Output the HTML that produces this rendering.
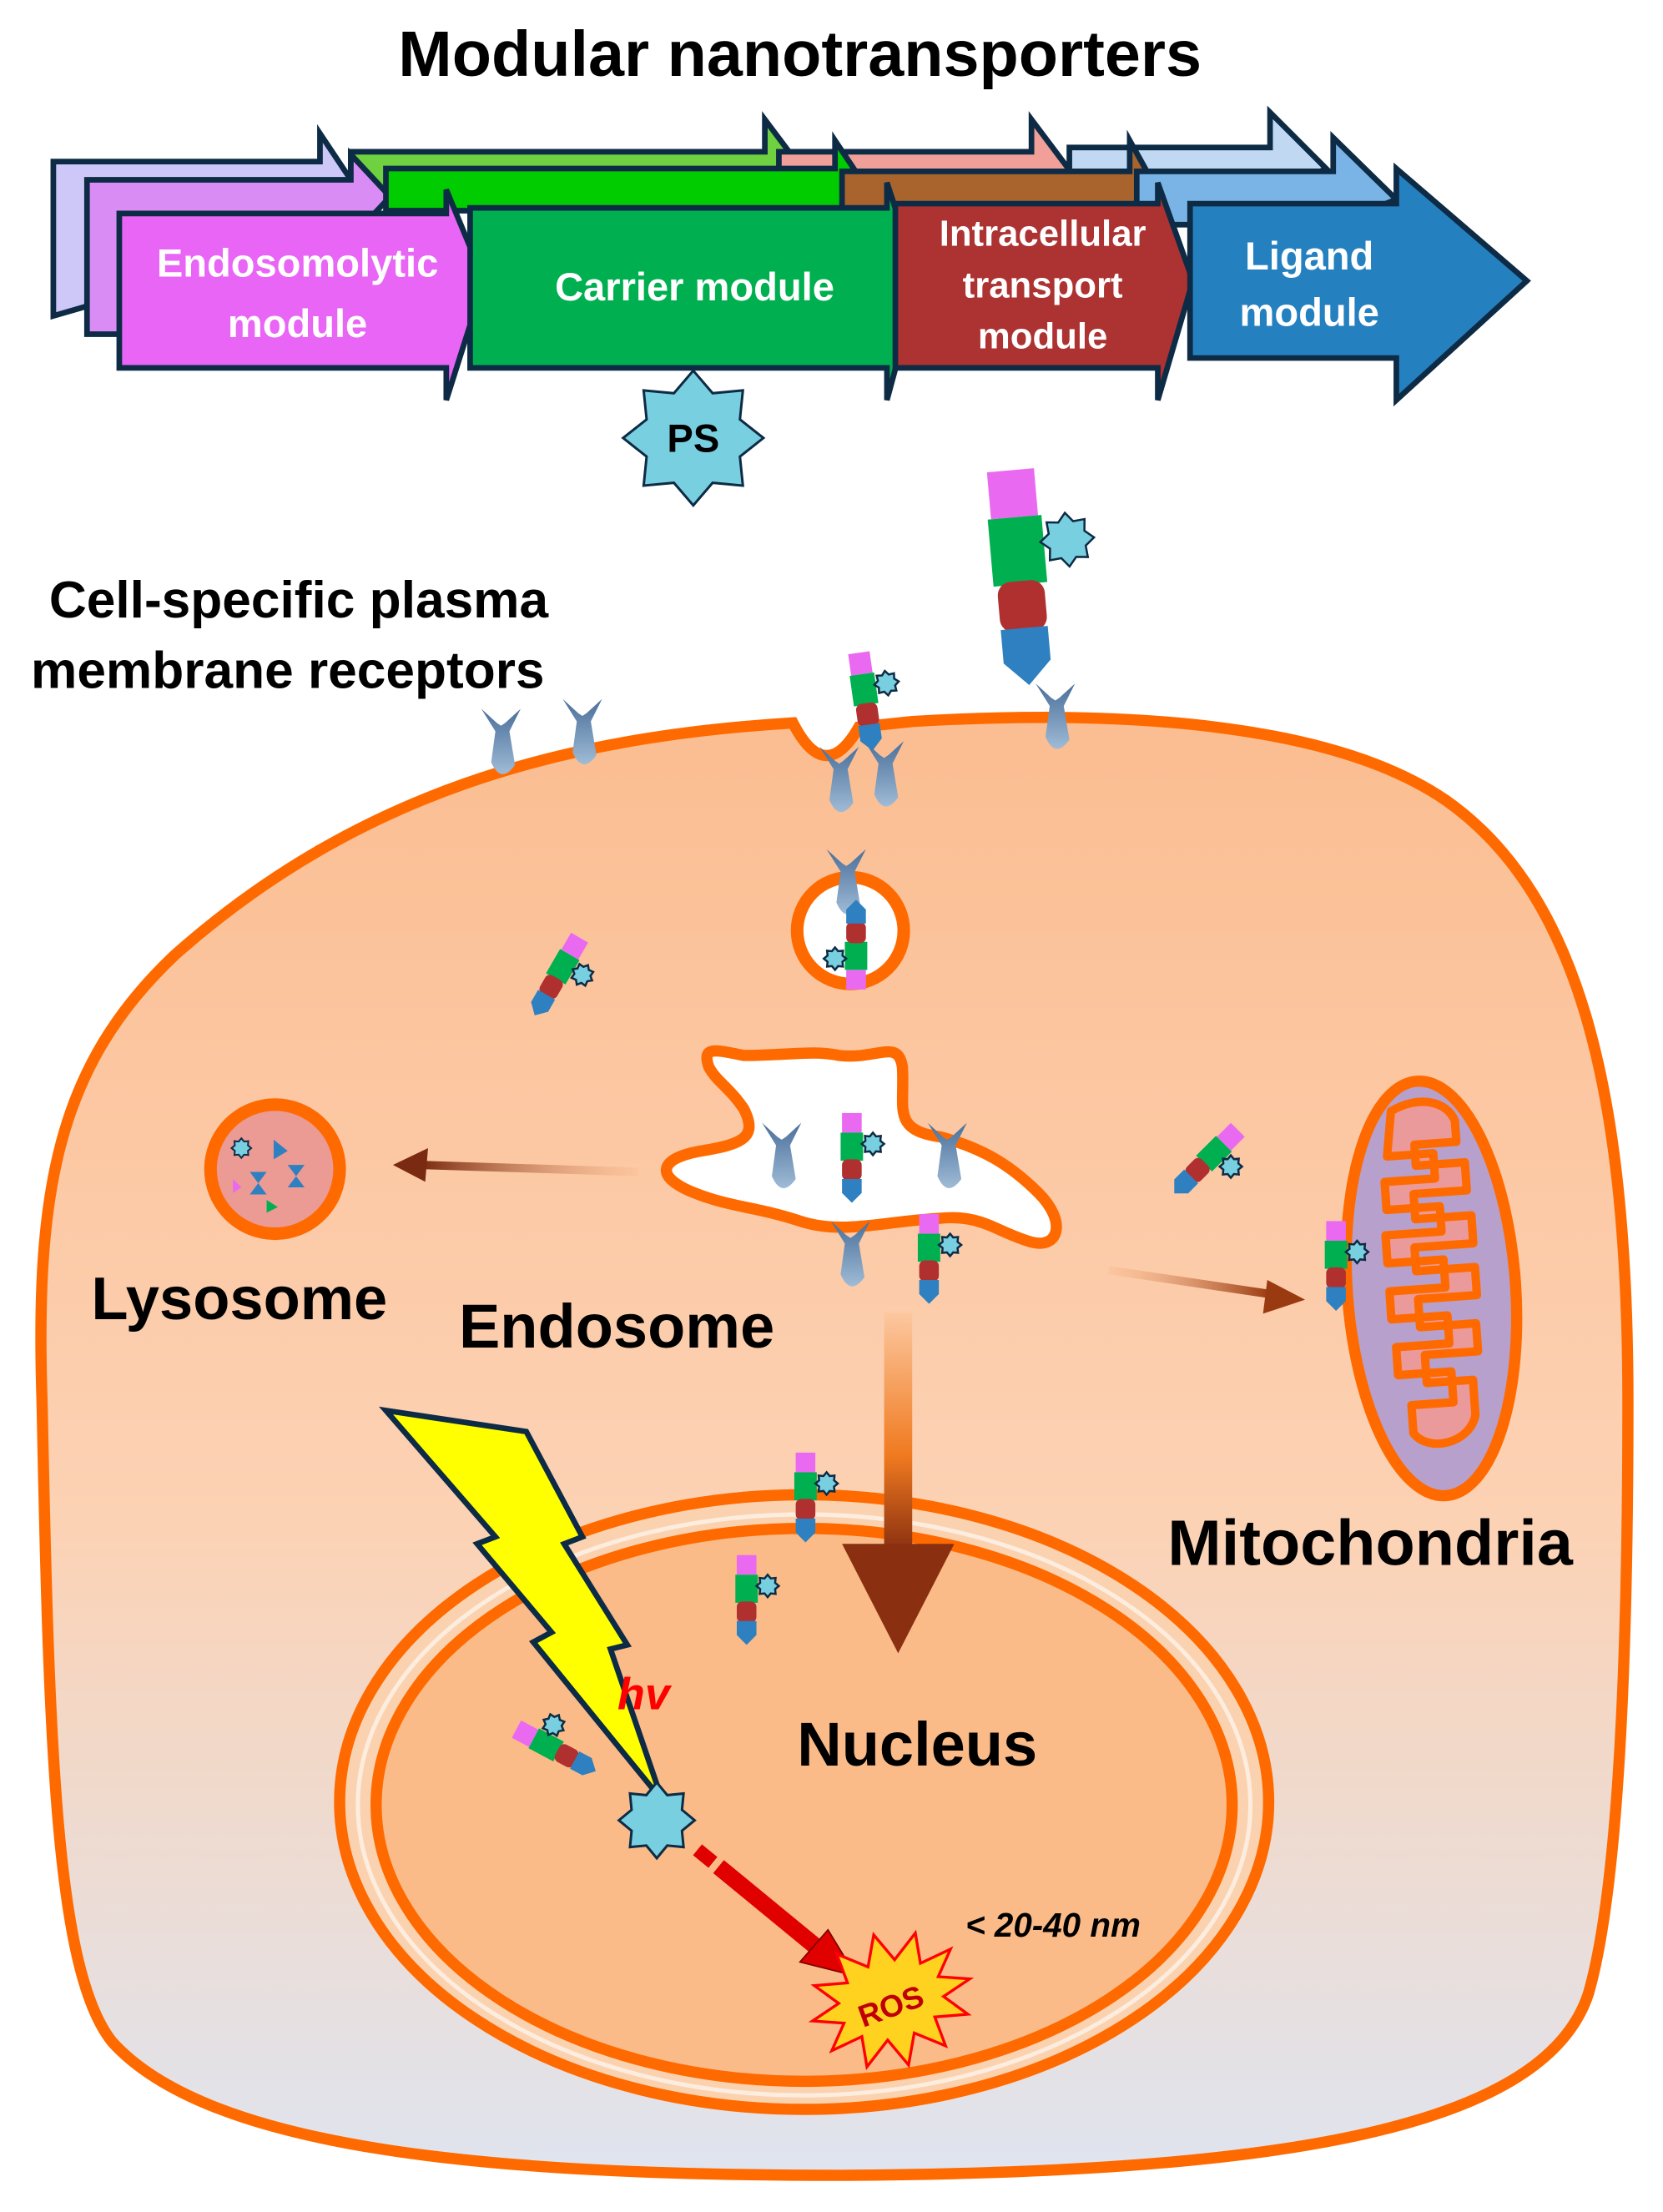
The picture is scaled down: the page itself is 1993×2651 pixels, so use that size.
<!DOCTYPE html>
<html><head><meta charset="utf-8">
<style>
html,body{margin:0;padding:0;background:#fff;}
svg{display:block;}
text{font-family:"Liberation Sans","DejaVu Sans",sans-serif;font-weight:bold;}
</style></head>
<body>
<svg width="1993" height="2651" viewBox="0 0 1185 1576" xmlns="http://www.w3.org/2000/svg">
<defs>
<linearGradient id="cellg" x1="0" y1="0" x2="0" y2="1">
<stop offset="0" stop-color="#fbbd91"/><stop offset="0.55" stop-color="#fcd2b4"/><stop offset="1" stop-color="#dfe4ef"/>
</linearGradient>
<linearGradient id="recg" x1="0" y1="0" x2="0" y2="1">
<stop offset="0" stop-color="#4a6f9a"/><stop offset="1" stop-color="#9fbbd6"/>
</linearGradient>
<linearGradient id="arrL" x1="1" y1="0" x2="0" y2="0">
<stop offset="0" stop-color="#fbb98a" stop-opacity="0.3"/><stop offset="1" stop-color="#7a2a10"/>
</linearGradient>
<linearGradient id="arrR" x1="0" y1="0" x2="1" y2="0">
<stop offset="0" stop-color="#fbb98a" stop-opacity="0.3"/><stop offset="1" stop-color="#9a3a10"/>
</linearGradient>
<linearGradient id="arrD" x1="0" y1="0" x2="0" y2="1">
<stop offset="0" stop-color="#fcc8a0"/><stop offset="0.6" stop-color="#f07a20"/><stop offset="1" stop-color="#8a3010"/>
</linearGradient>
<g id="star"><polygon vector-effect="non-scaling-stroke" points="0,-1 0.276,-0.665 0.707,-0.707 0.665,-0.276 1,0 0.665,0.276 0.707,0.707 0.276,0.665 0,1 -0.276,0.665 -0.707,0.707 -0.665,0.276 -1,0 -0.665,-0.276 -0.707,-0.707 -0.276,-0.665"/></g>
<g id="nt">
<rect x="-7" y="0" width="14" height="14" fill="#e96af0"/>
<rect x="-8" y="14" width="16" height="20" fill="#00b050"/>
<rect x="-7" y="33" width="14" height="15" rx="4" fill="#b03030"/>
<polygon points="-7,47 7,47 7,57 0,64 -7,57" fill="#2e80c0"/>
<use href="#star" transform="translate(15,22) scale(8)" fill="#78cfe0" stroke="#0d2b45" stroke-width="2.5"/>
</g>
<g id="rec">
<path d="M-14,0 L-4,16 L-7,38 Q0,54 10,40 L6,16 L14,0 L3,10 L0,12 L-3,10 Z" fill="url(#recg)"/>
</g>
</defs>

<text x="570" y="54" font-size="46" text-anchor="middle" fill="#000">Modular nanotransporters</text>

<g stroke="#0d2b45" stroke-width="4" stroke-linejoin="miter">
<polygon points="38,115 228,115 228,95 268,155 228,170 38,225" fill="#cdc8f8"/>
<polygon points="250,108 545,108 545,85 575,125 545,140 250,140" fill="#6fd040"/>
<polygon points="555,108 735,108 735,85 765,125 735,140 555,140" fill="#f0a098"/>
<polygon points="762,105 905,105 905,80 945,120 905,140 762,140" fill="#c0d8f2"/>
<polygon points="62,128 250,128 250,110 278,140 250,170 250,238 62,238" fill="#d88cf4"/>
<polygon points="275,120 595,120 595,100 625,145 595,150 275,150" fill="#00cc00"/>
<polygon points="600,122 805,122 805,100 830,145 805,150 600,150" fill="#a8642c"/>
<polygon points="810,122 950,122 950,98 995,142 950,160 810,160" fill="#7ab4e6"/>
<polygon points="85,152 318,152 318,135 345,200 318,285 318,262 85,262" fill="#e865f5"/>
<polygon points="335,148 632,148 632,130 655,200 632,285 632,262 335,262" fill="#00b050"/>
<polygon points="638,145 825,145 825,130 850,200 825,285 825,262 638,262" fill="#ad3232"/>
<polygon points="848,145 995,145 995,120 1088,200 995,285 995,255 848,255" fill="#2580c0"/>
</g>
<g fill="#fff" font-size="28" text-anchor="middle">
<text x="212" y="197">Endosomolytic</text><text x="212" y="240">module</text>
<text x="495" y="214">Carrier module</text>
<text x="743" y="175" font-size="26">Intracellular</text><text x="743" y="212" font-size="26">transport</text><text x="743" y="248" font-size="26">module</text>
<text x="933" y="192">Ligand</text><text x="933" y="232">module</text>
</g>
<use href="#star" transform="translate(494,312) scale(50,48)" fill="#78cfe0" stroke="#0d2b45" stroke-width="3"/>
<text x="494" y="322" font-size="28" text-anchor="middle">PS</text>

<text x="35" y="440" font-size="37" fill="#000">Cell-specific plasma</text>
<text x="22" y="490" font-size="37" fill="#000">membrane receptors</text>

<path d="M565,515 Q588,560 612,518 L650,514 C800,505 950,515 1030,570 C1130,640 1160,790 1160,1000 C1160,1200 1152,1350 1132,1420 C1100,1520 900,1548 600,1550 C350,1550 150,1532 80,1455 C40,1405 35,1250 30,1000 C25,850 40,760 125,680 C255,565 400,525 565,515 Z" fill="url(#cellg)" stroke="#ff6a00" stroke-width="8"/>

<ellipse cx="573" cy="1284" rx="331" ry="219" fill="#fbd2b0" stroke="#ff6a00" stroke-width="8"/>
<ellipse cx="573" cy="1286" rx="318" ry="207" fill="none" stroke="#fff" stroke-width="3" opacity="0.6"/>
<ellipse cx="573" cy="1286" rx="305" ry="197" fill="#fbbb88" stroke="#ff6a00" stroke-width="8"/>

<circle cx="606" cy="663" r="38" fill="#fff" stroke="#ff6a00" stroke-width="9"/>

<path d="M505,760 C500,745 510,748 530,752 C560,752 580,748 598,752 C625,755 640,740 643,760 C645,790 635,805 670,810 C700,818 720,830 740,850 C760,870 755,890 735,885 C710,878 700,865 670,868 C630,870 600,880 570,870 C540,860 520,860 495,850 C465,838 470,825 500,820 C530,815 540,810 530,790 C520,775 510,770 505,760 Z" fill="#fff" stroke="#ff6a00" stroke-width="8"/>

<circle cx="196" cy="833" r="46" fill="#eb9a94" stroke="#ff6a00" stroke-width="9"/>
<use href="#star" transform="translate(172,818) scale(7)" fill="#78cfe0" stroke="#0d2b45" stroke-width="2"/>
<polygon points="178,835 190,835 184,843 190,851 178,851 184,843" fill="#2e80c0"/>
<polygon points="205,830 217,830 211,838 217,846 205,846 211,838" fill="#2e80c0"/>
<polygon points="195,812 205,820 195,826" fill="#2e80c0"/>
<polygon points="190,855 198,860 190,864" fill="#00b050"/>
<polygon points="166,840 172,846 166,850" fill="#e96af0"/>

<g transform="rotate(-4 1020 918)">
<ellipse cx="1020" cy="918" rx="60" ry="148" fill="#b8a0cc" stroke="#ff6a00" stroke-width="8"/>
<path d="M1000,790 C1020,780 1040,785 1045,800 L1045,815 L1015,815 L1015,830 L1050,830 L1050,850 L1012,850 L1012,868 L1052,868 L1052,888 L1010,888 L1010,905 L1052,905 L1052,925 L1010,925 L1010,945 L1050,945 L1050,965 L1012,965 L1012,985 L1045,985 L1045,1010 C1040,1030 1010,1035 1000,1020 L1000,1000 L1030,1000 L1030,978 L992,978 L992,958 L1030,958 L1030,938 L990,938 L990,918 L1030,918 L1030,898 L990,898 L990,878 L1030,878 L1030,860 L992,860 L992,840 L1028,840 L1028,822 L995,822 Z" fill="#ea9a9a" stroke="#ff6a00" stroke-width="6" stroke-linejoin="round"/>
</g>

<line x1="455" y1="835" x2="300" y2="830" stroke="url(#arrL)" stroke-width="6"/>
<polygon points="280,830 305,818 303,842" fill="#7a2a10"/>
<line x1="790" y1="905" x2="905" y2="922" stroke="url(#arrR)" stroke-width="6"/>
<polygon points="930,926 903,912 900,936" fill="#9a3a10"/>
<rect x="630" y="935" width="20" height="170" fill="url(#arrD)"/>
<polygon points="600,1100 680,1100 640,1178" fill="#8a3010"/>

<use href="#rec" transform="translate(357,505)"/>
<use href="#rec" transform="translate(415,498)"/>
<use href="#rec" transform="translate(598,532)"/>
<use href="#rec" transform="translate(630,528)"/>
<use href="#rec" transform="translate(752,487)"/>
<use href="#rec" transform="translate(603,605)"/>
<use href="#rec" transform="translate(557,800)"/>
<use href="#rec" transform="translate(675,800)"/>
<use href="#rec" transform="translate(606,870)"/>

<use href="#nt" transform="translate(720,335) rotate(-5) scale(2.4)"/>
<use href="#nt" transform="translate(612,465) rotate(-8) scale(1.1)"/>
<use href="#nt" transform="translate(610,705) rotate(180) scale(1.0)"/>
<use href="#nt" transform="translate(413,668) rotate(30) scale(1.0)"/>
<use href="#nt" transform="translate(607,793) scale(1.0)"/>
<use href="#nt" transform="translate(662,865) scale(1.0)"/>
<use href="#nt" transform="translate(882,805) rotate(45) scale(1.0)"/>
<use href="#nt" transform="translate(952,870) scale(1.0)"/>
<use href="#nt" transform="translate(574,1035) scale(1.0)"/>
<use href="#nt" transform="translate(532,1108) scale(1.0)"/>
<use href="#nt" transform="translate(368,1232) rotate(-62) scale(1.0)"/>

<polygon points="275,1005 375,1020 415,1095 402,1100 447,1172 435,1175 472,1283 380,1170 393,1163 340,1100 353,1095" fill="#ffff00" stroke="#0d2b45" stroke-width="4" stroke-linejoin="miter"/>
<use href="#star" transform="translate(468,1297) scale(27)" fill="#78cfe0" stroke="#0d2b45" stroke-width="3"/>
<text x="440" y="1218" font-size="32" font-style="italic" fill="#ff0000">hv</text>
<text x="568" y="1258" font-size="44" fill="#000">Nucleus</text>

<line x1="497" y1="1318" x2="508" y2="1327" stroke="#e00000" stroke-width="10"/>
<line x1="512" y1="1330" x2="585" y2="1390" stroke="#e00000" stroke-width="12"/>
<polygon points="610,1408 570,1398 590,1375" fill="#e00000" stroke="#7a0000" stroke-width="1"/>

<polygon points="693,1425 671.7,1432.3 685.2,1449 661.9,1444.8 664,1466.6 644.8,1452 635,1473 625.2,1452 606,1466.6 608.1,1444.8 584.8,1449 598.3,1432.3 577,1425 598.3,1417.7 584.8,1401 608.1,1405.2 606,1383.4 625.2,1398 635,1377 644.8,1398 664,1383.4 661.9,1405.2 685.2,1401 671.7,1417.7" fill="#ffd21f" stroke="#ff0000" stroke-width="2" transform="rotate(-15 635 1425)"/>
<text x="635" y="1437" font-size="22" fill="#c00000" text-anchor="middle" transform="rotate(-20 635 1430)">ROS</text>
<text x="688" y="1380" font-size="24" font-style="italic" fill="#000">&lt; 20-40 nm</text>

<text x="65" y="940" font-size="43" fill="#000">Lysosome</text>
<text x="327" y="960" font-size="44" fill="#000">Endosome</text>
<text x="832" y="1115" font-size="46" fill="#000">Mitochondria</text>
</svg>
</body></html>
